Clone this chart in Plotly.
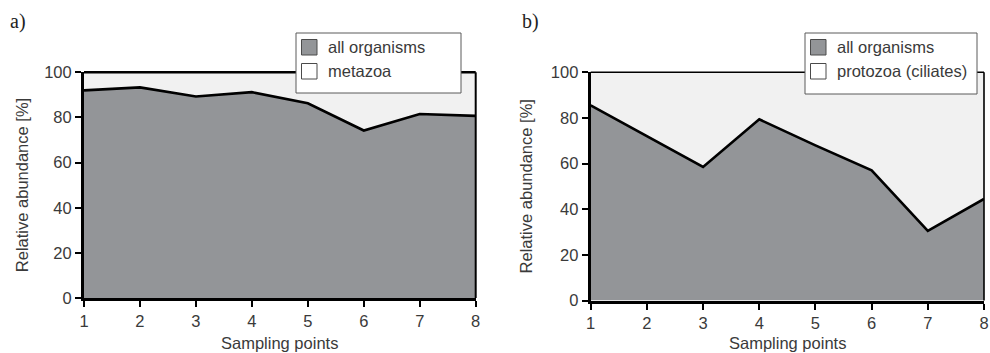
import plotly.graph_objects as go

points = [1, 2, 3, 4, 5, 6, 7, 8]
tick_vals_y = [0, 20, 40, 60, 80, 100]
a_all_organisms = [92.0, 93.3, 89.3, 91.2, 86.3, 74.2, 81.5, 80.7]
b_all_organisms = [85.5, 72.0, 58.5, 79.4, 68.0, 57.0, 30.5, 44.5]
top_total = [100] * 8
legend_a = ["all organisms", "metazoa"]
legend_b = ["all organisms", "protozoa (ciliates)"]
panel_labels = ["a)", "b)"]
x_title = "Sampling points"
y_title = "Relative abundance [%]"

W, H = 990, 353
DARK = "#939598"
LIGHT = "#f1f1f1"
TXT = "#3a3a3a"
FONT = "Liberation Sans, Arial, sans-serif"
FS = 16.5

fig = go.Figure()

def add_panel(vals, xa, ya):
    fig.add_trace(go.Scatter(x=points, y=vals, mode="lines", fill="tozeroy",
                             fillcolor=DARK, line=dict(width=0, color=DARK),
                             xaxis=xa, yaxis=ya, showlegend=False, hoverinfo="skip"))
    fig.add_trace(go.Scatter(x=points, y=top_total, mode="lines", fill="tonexty",
                             fillcolor=LIGHT, line=dict(width=0, color=LIGHT),
                             xaxis=xa, yaxis=ya, showlegend=False, hoverinfo="skip"))
    fig.add_trace(go.Scatter(x=points, y=vals, mode="lines",
                             line=dict(width=2.6, color="black"),
                             xaxis=xa, yaxis=ya, showlegend=False))

add_panel(a_all_organisms, "x", "y")
add_panel(b_all_organisms, "x2", "y2")

def px_x(v):
    return v / W

def px_y(v):
    return 1 - v / H

xcommon = dict(range=[1, 8], tickvals=points, ticks="outside", ticklen=6, tickwidth=2,
               tickcolor="black", showline=True, linewidth=3, linecolor="black",
               showgrid=False, zeroline=False, ticklabelstandoff=0, automargin=False,
               tickfont=dict(family=FONT, size=FS, color=TXT))
ycommon = dict(range=[0, 100], tickvals=tick_vals_y, ticks="outside", ticklen=6, tickwidth=2,
               tickcolor="black", showline=True, linewidth=3, linecolor="black",
               showgrid=False, zeroline=False, automargin=False,
               tickfont=dict(family=FONT, size=FS, color=TXT))

fig.update_layout(
    width=W, height=H,
    margin=dict(l=0, r=0, t=0, b=0, autoexpand=False),
    paper_bgcolor="white", plot_bgcolor="white",
    xaxis=dict(xcommon, domain=[84 / W, 475.7 / W], anchor="y"),
    yaxis=dict(ycommon, domain=[(H - 298) / H, (H - 72.3) / H], anchor="x"),
    xaxis2=dict(xcommon, domain=[590.7 / W, 984 / W], anchor="y2"),
    yaxis2=dict(ycommon, domain=[(H - 300.5) / H, (H - 72.3) / H], anchor="x2"),
    showlegend=False,
)

shapes = []
# top and right frame lines
for xr, yr, tw, rw in [("x", "y", 2.6, 2), ("x2", "y2", 1.6, 1.6)]:
    shapes.append(dict(type="line", xref=xr + " domain", yref=yr + " domain",
                       x0=0, x1=1, y0=1, y1=1, line=dict(color="black", width=tw), layer="above"))
    shapes.append(dict(type="line", xref=xr + " domain", yref=yr + " domain",
                       x0=1, x1=1, y0=0, y1=1, line=dict(color="black", width=rw), layer="above"))

annotations = []

def add_legend(box, sq_x, txt_x, labels):
    x0, x1, y0, y1 = box
    shapes.append(dict(type="rect", xref="paper", yref="paper",
                       x0=px_x(x0), x1=px_x(x1), y0=px_y(y1), y1=px_y(y0),
                       fillcolor="white", line=dict(color="#5a5a5a", width=1), layer="above"))
    fills = [DARK, "white"]
    rows = [(39.5, 55), (63.5, 79)]
    for (ya0, ya1), fc, lab in zip(rows, fills, labels):
        shapes.append(dict(type="rect", xref="paper", yref="paper",
                           x0=px_x(sq_x), x1=px_x(sq_x + 15.5), y0=px_y(ya1), y1=px_y(ya0),
                           fillcolor=fc, line=dict(color="#4a4a4a", width=1), layer="above"))
        annotations.append(dict(xref="paper", yref="paper", x=px_x(txt_x), y=px_y((ya0 + ya1) / 2),
                                xanchor="left", yanchor="middle", showarrow=False, text=lab,
                                font=dict(family=FONT, size=FS, color=TXT)))

add_legend((296, 461, 33, 93), 301.5, 326, legend_a)
add_legend((805, 977, 33, 94), 810.5, 835, legend_b)

for lab, xp in zip(panel_labels, [8, 520]):
    annotations.append(dict(xref="paper", yref="paper", x=px_x(xp), y=px_y(22),
                            xanchor="left", yanchor="middle", showarrow=False, text=lab,
                            font=dict(family="Liberation Serif, Times New Roman, serif", size=20, color="#222")))

# axis titles
for xr, yr, ytx in [("x", "y", 22), ("x2", "y2", 526)]:
    annotations.append(dict(xref=xr + " domain", yref="paper", x=0.5, y=px_y(343),
                            xanchor="center", yanchor="middle", showarrow=False, text=x_title,
                            font=dict(family=FONT, size=FS, color=TXT)))
    annotations.append(dict(xref="paper", yref=yr + " domain", x=px_x(ytx), y=0.5,
                            xanchor="center", yanchor="middle", showarrow=False, text=y_title,
                            textangle=-90, font=dict(family=FONT, size=FS, color=TXT)))

fig.update_layout(shapes=shapes, annotations=annotations)
fig.write_html("out.html")
